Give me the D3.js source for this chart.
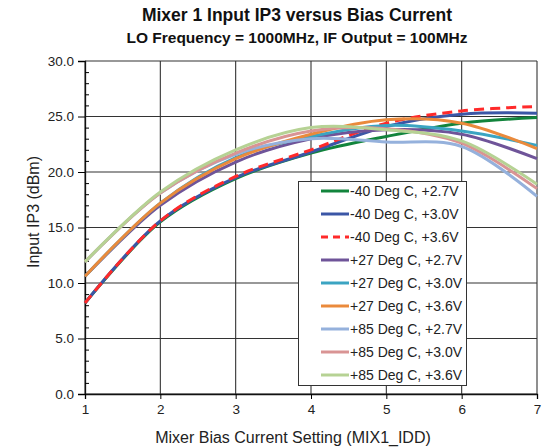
<!DOCTYPE html>
<html><head><meta charset="utf-8">
<script src="https://cdn.jsdelivr.net/npm/d3@7"></script>
<style>body{margin:0;background:#fff;} svg{display:block;font-family:"Liberation Sans",Arial,sans-serif;}</style>
</head><body><svg id="c" width="546" height="448"></svg>
<script>
const xValues = [1, 2, 3, 4, 5, 6, 7];
const seriesNames = ["-40 Deg C, +2.7V","-40 Deg C, +3.0V","-40 Deg C, +3.6V","+27 Deg C, +2.7V","+27 Deg C, +3.0V","+27 Deg C, +3.6V","+85 Deg C, +2.7V","+85 Deg C, +3.0V","+85 Deg C, +3.6V"];
const m40_27 = [8.2, 15.5, 19.4, 21.7, 23.2, 24.4, 24.9];
const m40_30 = [8.2, 15.6, 19.5, 21.8, 24.1, 25.2, 25.3];
const m40_36 = [8.2, 15.6, 19.6, 22.0, 24.4, 25.5, 25.9];
const p27_27 = [10.6, 17.0, 20.9, 23.0, 23.8, 23.4, 21.2];
const p27_30 = [10.6, 17.2, 21.3, 23.2, 24.2, 23.7, 22.4];
const p27_36 = [10.6, 17.2, 21.2, 23.4, 24.7, 24.4, 22.1];
const p85_27 = [11.9, 18.1, 21.6, 23.0, 22.7, 22.3, 17.8];
const p85_30 = [11.9, 18.1, 21.7, 23.7, 23.9, 22.6, 18.5];
const p85_36 = [11.9, 18.2, 22.0, 24.0, 23.8, 22.8, 18.9];
const seriesValues = [m40_27, m40_30, m40_36, p27_27, p27_30, p27_36, p85_27, p85_30, p85_36];
const colors = ["#12843c","#3b56a6","#ff2a2a","#6f5499","#3ba4c2","#ea8a3c","#95b1dc","#d99494","#b6d294"];
const dashed = [false,false,true,false,false,false,false,false,false];
const yTicks = [0, 5, 10, 15, 20, 25, 30];
const xTicks = [1, 2, 3, 4, 5, 6, 7];

const svg = d3.select("#c");
const L = 85, R = 537, T = 61, B = 394;
const x = d3.scaleLinear().domain([1, 7]).range([L, R]);
const y = d3.scaleLinear().domain([0, 30]).range([B, T]);

// title
svg.append("text").attr("x", 297).attr("y", 21).attr("text-anchor","middle")
  .attr("font-size", 17.5).attr("font-weight","bold").attr("fill","#111").text("Mixer 1 Input IP3 versus Bias Current");
svg.append("text").attr("x", 297).attr("y", 43).attr("text-anchor","middle")
  .attr("font-size", 15.5).attr("font-weight","bold").attr("fill","#111").text("LO Frequency = 1000MHz, IF Output = 100MHz");

// grid
const g = svg.append("g");
g.selectAll(".hg").data(yTicks).enter().append("line")
  .attr("x1", L).attr("x2", R).attr("y1", d => y(d)).attr("y2", d => y(d))
  .attr("stroke", "#333").attr("stroke-width", 1.1);
g.selectAll(".vg").data(xTicks).enter().append("line")
  .attr("y1", T).attr("y2", B).attr("x1", d => x(d)).attr("x2", d => x(d))
  .attr("stroke", "#333").attr("stroke-width", 1.1);

// y axis
const yAxis = d3.axisLeft(y).tickValues(yTicks).tickFormat(d3.format(".1f")).tickSize(7).tickPadding(4);
const ya = svg.append("g").attr("transform", `translate(${L},0)`).call(yAxis);
ya.select(".domain").attr("stroke","#111").attr("stroke-width",1.3);
ya.selectAll("text").attr("font-size", 13.5).attr("fill","#222").attr("font-family","Liberation Sans, Arial, sans-serif");
const minor = d3.range(0, 31).filter(v => v % 5 !== 0);
const yMinor = d3.axisRight(y).tickValues(minor).tickSize(4).tickFormat("");
const ym = svg.append("g").attr("transform", `translate(${L},0)`).call(yMinor);
ym.select(".domain").remove();

// x axis
const xAxis = d3.axisBottom(x).tickValues(xTicks).tickFormat(d3.format("d")).tickSize(5).tickPadding(5);
const xa = svg.append("g").attr("transform", `translate(0,${B})`).call(xAxis);
xa.select(".domain").attr("stroke","#111").attr("stroke-width",1.3);
xa.selectAll("text").attr("font-size", 13.5).attr("fill","#222").attr("font-family","Liberation Sans, Arial, sans-serif");

// axis labels
svg.append("text").attr("x", 293).attr("y", 443).attr("text-anchor","middle")
  .attr("font-size", 16).attr("fill","#222").text("Mixer Bias Current Setting (MIX1_IDD)");
svg.append("text").attr("transform","translate(39,212) rotate(-90)").attr("text-anchor","middle")
  .attr("font-size", 16).attr("fill","#222").text("Input IP3 (dBm)");

// lines
const line = d3.line().x(d => x(d[0])).y(d => y(d[1])).curve(d3.curveCatmullRom.alpha(0.5));
const lg = svg.append("g");
seriesValues.forEach((vals, i) => {
  lg.append("path").datum(xValues.map((xv, j) => [xv, vals[j]]))
    .attr("d", line).attr("fill","none").attr("stroke", colors[i]).attr("stroke-width", 3)
    .attr("stroke-dasharray", dashed[i] ? "10,6" : null);
});

// legend
const leg = svg.append("g");
leg.append("rect").attr("x", 298.5).attr("y", 181.5).attr("width", 168).attr("height", 204)
  .attr("fill","#fff").attr("stroke","#333").attr("stroke-width",1);
seriesNames.forEach((n, i) => {
  const cy = 191 + i * 23;
  leg.append("line").attr("x1", 321).attr("x2", 349).attr("y1", cy).attr("y2", cy)
    .attr("stroke", colors[i]).attr("stroke-width", 3).attr("stroke-dasharray", dashed[i] ? "7,5" : null);
  leg.append("text").attr("x", 350).attr("y", cy + 5).attr("font-size", 14).attr("fill","#222").text(n);
});
</script></body></html>
